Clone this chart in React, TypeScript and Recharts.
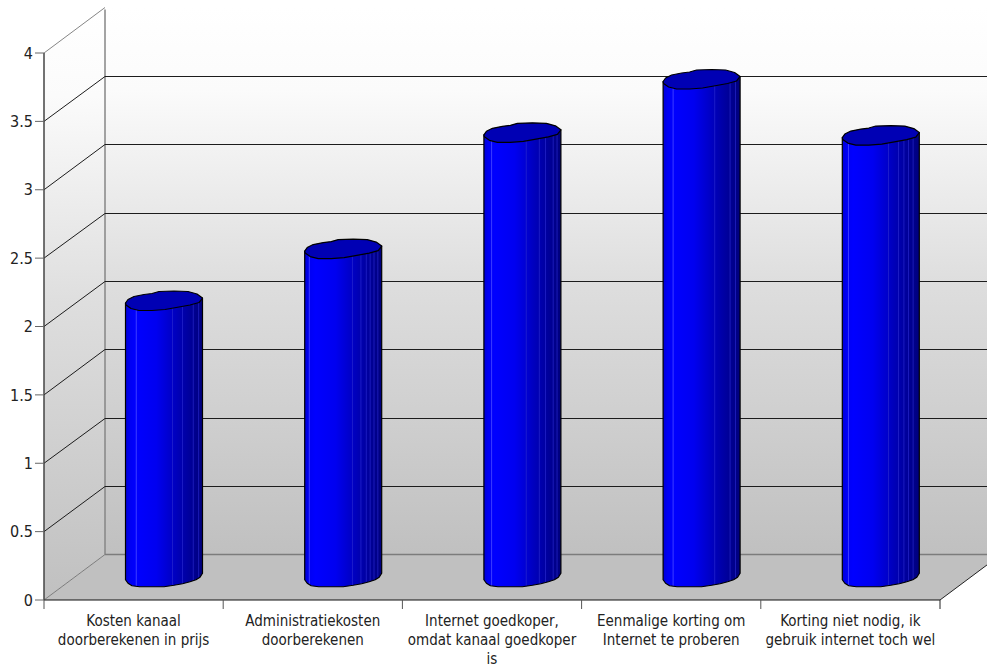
import React from 'react';
import { ComposedChart, Bar, XAxis, YAxis, ReferenceLine, ReferenceArea } from 'recharts';

const categories = [
  'Kosten kanaal\ndoorberekenen in prijs',
  'Administratiekosten\ndoorberekenen',
  'Internet goedkoper,\nomdat kanaal goedkoper\nis',
  'Eenmalige korting om\nInternet te proberen',
  'Korting niet nodig, ik\ngebruik internet toch wel',
];
const scores = [2.02, 2.4, 3.25, 3.64, 3.23];
const yTicks = [0, 0.5, 1, 1.5, 2, 2.5, 3, 3.5, 4];

const chartData = categories.map((name, i) => ({ name, score: scores[i] }));

const FONT = '"DejaVu Sans Condensed", "DejaVu Sans", sans-serif';
const DEPTH_X = 61;
const DEPTH_Y = 45.5;
const FLOOR = '#c0c0c0';

// Outline of the cylinder cap, offsets from its centre
const CAP = [
  [-38.5, 2], [-36, -1.5], [-30, -4.5], [-20, -6.5], [-12, -7.5], [-5, -9.5], [10, -10], [24, -9.5],
  [33, -7], [38.5, -3], [35, 1.5], [26, 4], [15, 6], [1, 8.5], [-12, 9.5], [-25, 9.5], [-33, 7.5], [-38, 4],
];
// Lower rim of the cylinder, left to right
const RIM = [
  [-38.5, 2.5], [-36, 6], [-32, 8.5], [-24.5, 9.5], [0, 9.5], [10, 8], [18.5, 6.5], [26, 4.5], [32, 2.5], [36, 0], [38.5, -4],
];
// Lighter facet edges on each cylinder, as fractions of its width
const FACETS = [
  [0.14, 0.61, 0.74, 0.88, 0.95],
  [0.06, 0.62, 0.73, 0.8, 0.85, 0.9, 0.95],
  [0.1, 0.55, 0.72, 0.8, 0.9, 0.95],
  [0.13, 0.67, 0.87, 0.94],
  [0.08, 0.6, 0.73, 0.8, 0.86, 0.92],
];

function toPath(points: number[][], cx: number, cy: number) {
  return points.map(([dx, dy], i) => `${i ? 'L' : 'M'}${cx + dx} ${cy + dy}`).join(' ');
}

function Cylinder(props: any) {
  const { x, y, width, height, index } = props;
  const cx = x + width / 2 + DEPTH_X / 2;
  const topY = y - DEPTH_Y / 2;
  const baseY = y + height - DEPTH_Y / 2;
  const right = cx + 38.5;
  const rim = RIM.map(([dx, dy]) => `L${cx + dx} ${baseY + dy}`).join(' ');
  const body = `M${cx - 38.5} ${topY + 2} ${rim} L${right} ${topY - 3} Z`;
  return (
    <g>
      <defs>
        <linearGradient id={`cyl-${index}`} x1="0" x2="1" y1="0" y2="0">
          <stop offset="0" stopColor="#0000d8" />
          <stop offset="0.06" stopColor="#0000f4" />
          <stop offset="0.14" stopColor="#0000ff" />
          <stop offset="0.4" stopColor="#0000f0" />
          <stop offset="0.7" stopColor="#0000b4" />
          <stop offset="1" stopColor="#00007c" />
        </linearGradient>
        <clipPath id={`cyl-clip-${index}`}>
          <path d={body} />
        </clipPath>
      </defs>
      <path d={body} fill={`url(#cyl-${index})`} />
      <g clipPath={`url(#cyl-clip-${index})`}>
        {FACETS[index].map((f) => (
          <line
            key={f}
            x1={cx - 38.5 + f * 77}
            x2={cx - 38.5 + f * 77}
            y1={topY - 12}
            y2={baseY + 12}
            stroke={f < 0.3 ? '#3c3cff' : '#2a2ad0'}
            strokeOpacity={f < 0.3 ? 1 : 0.65}
            strokeWidth={1}
          />
        ))}
      </g>
      <path d={body} fill="none" stroke="#000" strokeWidth={1.2} strokeLinejoin="round" />
      <path
        d={`${toPath(CAP, cx, topY)} Z`}
        fill="#0000b4"
        stroke="#000"
        strokeWidth={1.2}
        strokeLinejoin="round"
      />
    </g>
  );
}

// Left wall, back wall and floor of the 3D box
function Walls(props: any) {
  const { x, y, width, height } = props;
  const bottom = y + height;
  const backLeft = x + DEPTH_X;
  const backBottom = bottom - DEPTH_Y;
  const backTop = y - DEPTH_Y;
  return (
    <g>
      <defs>
        <linearGradient id="wallFill" x1="0" x2="0" y1="0" y2="1">
          <stop offset="0" stopColor="#ffffff" />
          <stop offset="0.15" stopColor="#fbfbfb" />
          <stop offset="0.5" stopColor="#dedede" />
          <stop offset="1" stopColor={FLOOR} />
        </linearGradient>
      </defs>
      <rect x={backLeft} y={backTop} width={1000} height={backBottom - backTop} fill="url(#wallFill)" />
      <polygon
        points={`${x},${y} ${backLeft},${backTop} ${backLeft},${backBottom} ${x},${bottom}`}
        fill="url(#wallFill)"
      />
      <polygon
        points={`${x},${bottom} ${x + width},${bottom} ${x + width + DEPTH_X},${backBottom} ${backLeft},${backBottom}`}
        fill={FLOOR}
      />
      <line x1={backLeft} x2={backLeft} y1={backTop + 2} y2={backBottom} stroke="#868686" strokeWidth={1.5} />
      <line x1={x} x2={backLeft} y1={y} y2={backTop} stroke="#868686" strokeWidth={1} />
      <line x1={x} x2={backLeft} y1={bottom} y2={backBottom} stroke="#7c7c7c" strokeWidth={1} />
      <line x1={backLeft} x2={1000} y1={backBottom} y2={backBottom} stroke="#7c7c7c" strokeWidth={1.5} />
      <line x1={x + width} x2={x + width + DEPTH_X} y1={bottom} y2={backBottom} stroke="#222" strokeWidth={1} />
    </g>
  );
}

// A gridline folded along the left wall and the back wall
function FoldedGridLine(props: any) {
  const { x1, y1 } = props;
  const xb = x1 + DEPTH_X;
  const yb = Math.round(y1 - DEPTH_Y) + 0.5;
  return <polyline points={`${x1},${y1} ${xb},${yb} 1000,${yb}`} fill="none" stroke="#1c1c1c" strokeWidth={1} />;
}

function CategoryTick(props: any) {
  const { x, y, payload, index } = props;
  const band = 896 / categories.length;
  const axisY = y - 8;
  const lines = String(payload.value).split('\n');
  return (
    <g>
      <line x1={x - band / 2} x2={x - band / 2} y1={axisY} y2={axisY + 9} stroke="#555" />
      {index === categories.length - 1 && (
        <line x1={x + band / 2} x2={x + band / 2} y1={axisY} y2={axisY + 9} stroke="#222" />
      )}
      <text x={x} y={axisY + 26} textAnchor="middle" fontFamily={FONT} fontSize={15} fill="#222">
        {lines.map((line, i) => (
          <tspan key={line} x={x} dy={i ? 19 : 0}>
            {line}
          </tspan>
        ))}
      </text>
    </g>
  );
}

export default function App() {
  return (
    <div style={{ position: 'absolute', left: 0, top: 0, width: 987, height: 668, background: '#fff' }}>
      <ComposedChart
        width={987}
        height={668}
        data={chartData}
        margin={{ top: 53, right: 47, bottom: 0, left: 0 }}
      >
        <ReferenceArea y1={0} y2={4} shape={Walls} zIndex={100} />
        {yTicks.slice(1, -1).map((t) => (
          <ReferenceLine key={t} y={t} shape={FoldedGridLine} zIndex={150} />
        ))}
        <XAxis
          dataKey="name"
          height={68}
          interval={0}
          tick={CategoryTick}
          tickLine={false}
          axisLine={{ stroke: '#111' }}
        />
        <YAxis
          domain={[0, 4]}
          ticks={yTicks}
          width={44}
          tickSize={9}
          tickMargin={2}
          tick={{ fontFamily: FONT, fontSize: 16, fill: '#222' }}
          tickLine={{ stroke: '#666' }}
          axisLine={{ stroke: '#444', strokeWidth: 1.5 }}
        />
        <Bar dataKey="score" barSize={77} shape={Cylinder} isAnimationActive={false} />
      </ComposedChart>
    </div>
  );
}
